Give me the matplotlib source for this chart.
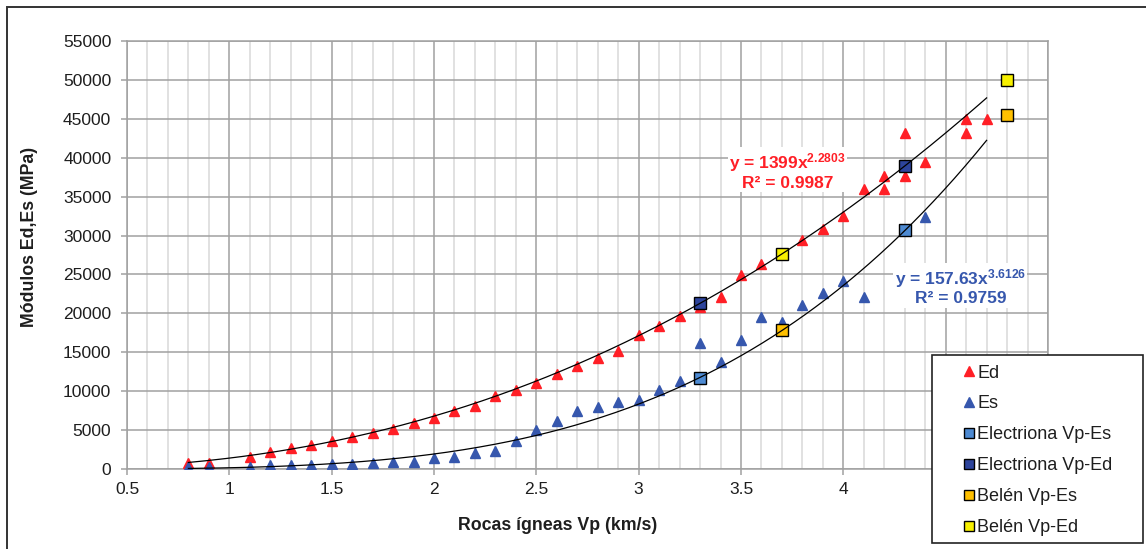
import numpy as np
import matplotlib
matplotlib.use("Agg")
import matplotlib.pyplot as plt
from matplotlib.lines import Line2D
from matplotlib.patches import Rectangle
from matplotlib.ticker import MultipleLocator

plt.rcParams['font.family'] = ['Liberation Sans', 'DejaVu Sans']
plt.rcParams['mathtext.fontset'] = 'custom'
plt.rcParams['mathtext.rm'] = 'Liberation Sans:bold'
plt.rcParams['mathtext.it'] = 'Liberation Sans:bold'
plt.rcParams['mathtext.bf'] = 'Liberation Sans:bold'

# ---- data -------------------------------------------------------------
vp_ed = [0.8, 0.9, 1.1, 1.2, 1.3, 1.4, 1.5, 1.6, 1.7, 1.8, 1.9, 2.0, 2.1, 2.2,
         2.3, 2.4, 2.5, 2.6, 2.7, 2.8, 2.9, 3.0, 3.1, 3.2, 3.3, 3.4, 3.5, 3.6,
         3.8, 3.9, 4.0, 4.1, 4.2, 4.2, 4.3, 4.3, 4.4, 4.6, 4.6, 4.7]
ed = [800, 800, 1600, 2200, 2650, 3100, 3600, 4100, 4600, 5100, 5950, 6600,
      7400, 8100, 9400, 10100, 11100, 12200, 13300, 14300, 15200, 17200, 18400,
      19600, 20800, 22100, 24900, 26400, 29400, 30900, 32500, 36000, 36000,
      37600, 37600, 43150, 39400, 43150, 45000, 45000]

vp_es = [0.8, 0.9, 1.1, 1.2, 1.3, 1.4, 1.5, 1.6, 1.7, 1.8, 1.9, 2.0, 2.1, 2.2,
         2.3, 2.4, 2.5, 2.6, 2.7, 2.8, 2.9, 3.0, 3.1, 3.2, 3.3, 3.4, 3.5, 3.6,
         3.7, 3.8, 3.9, 4.0, 4.1, 4.4]
es = [250, 250, 300, 450, 500, 550, 650, 650, 750, 900, 950, 1450, 1600, 2100,
      2350, 3600, 5050, 6200, 7400, 7950, 8550, 8900, 10100, 11250, 16250,
      13800, 16600, 19550, 18900, 21050, 22650, 24200, 22050, 32400]

electriona_vp = [3.3, 4.3]
electriona_es = [11700, 30650]
electriona_ed = [21300, 39000]

belen_vp = [3.7, 4.8]
belen_es = [17850, 45550]
belen_ed = [27650, 50000]

# power-law trendlines y = a * x^b
ED_COEF, ED_EXP, ED_R2 = 1399, 2.2803, 0.9987
ES_COEF, ES_EXP, ES_R2 = 157.63, 3.6126, 0.9759
trend_range = (0.8, 4.7)

x_ticks = [0.5, 1, 1.5, 2, 2.5, 3, 3.5, 4, 4.5, 5]
x_tick_labels = ['0.5', '1', '1.5', '2', '2.5', '3', '3.5', '4', '', '']
y_ticks = list(range(0, 55001, 5000))

# ---- styling ----------------------------------------------------------
RED = '#FF1F26'
BLUE = '#3657AD'
LIGHT_BLUE = '#4D8AD2'
DARK_BLUE = '#2D449C'
ORANGE = '#FFC000'
YELLOW = '#F7F000'
MAJOR_GRID = '#A0A0A0'
MINOR_GRID = '#D9D9D9'
TEXT = '#1E1E1E'

W, H = 1146, 549


def fx(px):
    return px / W


def fy(py):
    return 1 - py / H


fig = plt.figure(figsize=(W / 100, H / 100), dpi=100)
fig.patch.set_facecolor('white')

ax = fig.add_axes([fx(127), fy(469), (1048 - 127) / W, (469 - 41) / H])
ax.set_xlim(0.5, 5.0)
ax.set_ylim(0, 55000)
ax.set_xticks(x_ticks)
ax.set_xticklabels(x_tick_labels)
ax.set_yticks(y_ticks)
ax.set_yticklabels([str(t) for t in y_ticks])
ax.xaxis.set_minor_locator(MultipleLocator(0.1))

ax.set_axisbelow(True)
ax.grid(which='minor', axis='x', color=MINOR_GRID, lw=1.1)
ax.grid(which='major', axis='x', color=MAJOR_GRID, lw=1.1)
ax.grid(which='major', axis='y', color=MAJOR_GRID, lw=1.1)
for s in ax.spines.values():
    s.set_color(MAJOR_GRID)
    s.set_linewidth(1.1)

ax.tick_params(axis='x', which='major', direction='out', length=4, width=1.1,
               color=MAJOR_GRID, pad=5, labelsize=12.5, labelcolor=TEXT)
ax.tick_params(axis='y', which='major', direction='out', length=4.3, width=1.1,
               color=MAJOR_GRID, pad=7, labelsize=12.5, labelcolor=TEXT)
ax.tick_params(axis='x', which='minor', length=0)

# measured points
ax.plot(vp_ed, ed, ls='none', marker='^', ms=7.5, color=RED, mec=RED, zorder=3)
ax.plot(vp_es, es, ls='none', marker='^', ms=7.5, color=BLUE, mec=BLUE, zorder=3)

sq = dict(ls='none', marker='s', ms=8.8, mec='black', mew=1.0, zorder=4)
ax.plot(electriona_vp, electriona_es, mfc=LIGHT_BLUE, **sq)
ax.plot(electriona_vp, electriona_ed, mfc=DARK_BLUE, **sq)
ax.plot(belen_vp, belen_es, mfc=ORANGE, **sq)
ax.plot(belen_vp, belen_ed, mfc=YELLOW, **sq)

# power trendlines
xt = np.linspace(trend_range[0], trend_range[1], 300)
ax.plot(xt, ED_COEF * xt ** ED_EXP, color='black', lw=0.9, zorder=5)
ax.plot(xt, ES_COEF * xt ** ES_EXP, color='black', lw=0.9, zorder=5)

box = dict(facecolor='white', edgecolor='none', pad=1)
ax.text(3.727, 38290,
        f"y = {ED_COEF:g}x$^{{{ED_EXP}}}$\nR² = {ED_R2}",
        color=RED, fontsize=12.5, fontweight='bold', ha='center', va='center',
        multialignment='center', linespacing=1.15, bbox=box, zorder=6)
ax.text(4.572, 23450,
        f"y = {ES_COEF:g}x$^{{{ES_EXP}}}$\nR² = {ES_R2}",
        color=BLUE, fontsize=12.5, fontweight='bold', ha='center', va='center',
        multialignment='center', linespacing=1.15, bbox=box, zorder=6)

# axis titles
fig.text(fx(558), fy(525), 'Rocas ígneas Vp (km/s)', fontsize=12.8,
         fontweight='bold', color=TEXT, ha='center', va='center')
fig.text(fx(30), fy(237), 'Módulos Ed,Es (MPa)', fontsize=12.8,
         fontweight='bold', color=TEXT, ha='center', va='center', rotation=90)

# chart frame
fig.add_artist(Rectangle((fx(7), fy(570)), (1170 - 7) / W, (570 - 7) / H,
                         transform=fig.transFigure, fill=False,
                         edgecolor='#333333', lw=1.4, clip_on=False, zorder=2))

# legend box
fig.add_artist(Rectangle((fx(932), fy(543)), (1143 - 932) / W, (543 - 355) / H,
                         transform=fig.transFigure, facecolor='white',
                         edgecolor='#222222', lw=1.2, zorder=3))
handles = [
    Line2D([], [], ls='none', marker='^', ms=6.5, color=RED, label='Ed'),
    Line2D([], [], ls='none', marker='^', ms=6.5, color=BLUE, label='Es'),
    Line2D([], [], ls='none', marker='s', ms=7.2, mfc=LIGHT_BLUE, mec='black',
           mew=1.0, label='Electriona Vp-Es'),
    Line2D([], [], ls='none', marker='s', ms=7.2, mfc=DARK_BLUE, mec='black',
           mew=1.0, label='Electriona Vp-Ed'),
    Line2D([], [], ls='none', marker='s', ms=7.2, mfc=ORANGE, mec='black',
           mew=1.0, label='Belén Vp-Es'),
    Line2D([], [], ls='none', marker='s', ms=7.2, mfc=YELLOW, mec='black',
           mew=1.0, label='Belén Vp-Ed'),
]
leg = fig.legend(handles=handles, loc='upper left',
                 bbox_to_anchor=(fx(963.6), fy(364.5)), frameon=False,
                 borderpad=0, borderaxespad=0, handlelength=0.6,
                 handletextpad=0.15, labelspacing=0.77, fontsize=13)
for t in leg.get_texts():
    t.set_color(TEXT)
leg.set_zorder(5)

fig.savefig('out.png', dpi=100)
